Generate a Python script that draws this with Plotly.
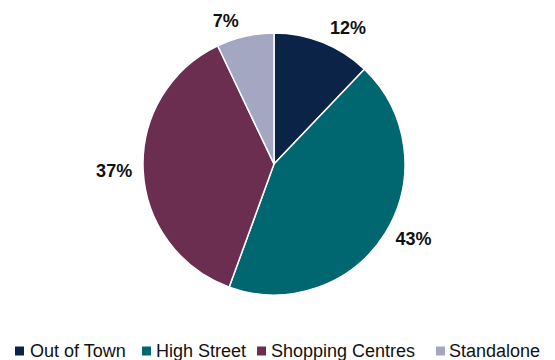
import plotly.graph_objects as go

labels = ["Out of Town", "High Street", "Shopping Centres", "Standalone"]
values = [12, 43, 37, 7]
colors = ["#0B2346", "#006670", "#6B2D50", "#A3A7C2"]

W, H = 555, 360
cx, cy, r = 274, 164, 131
r_lab = 137


def dom(rad):
    return dict(x=[(cx - rad) / W, (cx + rad) / W],
                y=[1 - (cy + rad) / H, 1 - (cy - rad) / H])


fig = go.Figure()

# invisible pie carrying the outside percentage labels
fig.add_trace(go.Pie(
    labels=labels, values=values, sort=False, direction="clockwise", rotation=0,
    marker=dict(colors=["rgba(0,0,0,0)"] * len(values), line=dict(width=0)),
    textposition="outside",
    texttemplate="<b>%{value}%</b>",
    textfont=dict(family="Arial", size=18, color="#111111"),
    domain=dom(r_lab), showlegend=False, hoverinfo="skip",
))

fig.add_trace(go.Pie(
    labels=labels, values=values, sort=False, direction="clockwise", rotation=0,
    marker=dict(colors=colors, line=dict(color="white", width=1.5)),
    textinfo="none",
    domain=dom(r), showlegend=False, hoverinfo="label+percent",
))

# custom compact legend
legend_text_x = [28, 154, 269, 447]
legend_mark_x = [15, 142, 257, 436]
ly = 351
for lab, col, tx, mx in zip(labels, colors, legend_text_x, legend_mark_x):
    fig.add_shape(type="rect", xref="paper", yref="paper",
                  x0=mx / W, x1=(mx + 9) / W,
                  y0=1 - (ly + 4.5) / H, y1=1 - (ly - 4.5) / H,
                  fillcolor=col, line=dict(width=0))
    fig.add_annotation(text=lab, xref="paper", yref="paper",
                       x=tx / W, y=1 - ly / H, xanchor="left", yanchor="middle",
                       showarrow=False,
                       font=dict(family="Arial", size=18, color="#111111"))

fig.update_layout(
    width=W, height=H,
    margin=dict(l=0, r=0, t=0, b=0),
    paper_bgcolor="white", plot_bgcolor="white",
    showlegend=False,
)

fig.write_html("out.html")
